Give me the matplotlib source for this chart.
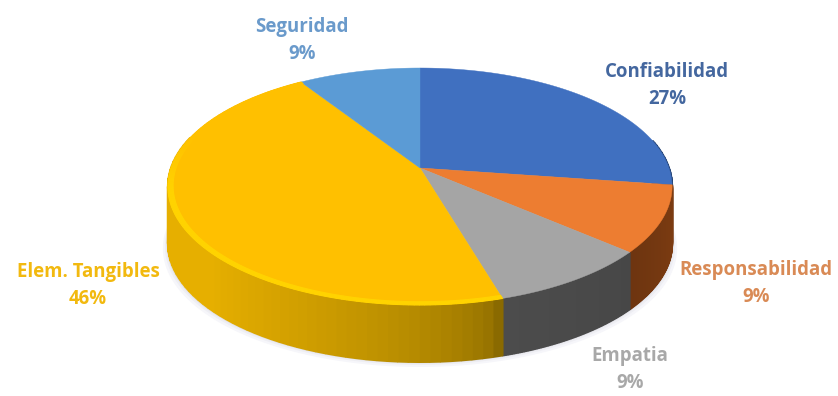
import numpy as np
import matplotlib
matplotlib.use("Agg")
import matplotlib.pyplot as plt
from matplotlib.colors import to_rgb

# data
categories = ["Confiabilidad", "Responsabilidad", "Empatia", "Elem. Tangibles", "Seguridad"]
percent = [27.3, 9.1, 9.1, 45.5, 9.1]
colors = ["#4070C0", "#ED7D31", "#A5A5A5", "#FFC000", "#5B9BD5"]
text_colors = ["#44679F", "#D98A55", "#A8A8A8", "#F2B90F", "#6A9ACB"]
# side wall colour at the start and the end of each slice (clockwise)
side_start = ["#2A4A80", "#7F3D12", "#474747", "#8A6A00", "#3D678E"]
side_end = ["#264475", "#6E3510", "#4C4C4C", "#E6AF00", "#3D678E"]
label_pos = [(667, 72), (756, 270), (630, 356), (88, 272), (302, 27)]

# projection of the tilted disc, in pixels
cx, cy, R, A, k = 420, 168, 249, 115.6, 0.156
depth = 57


def project(t, r=1.0):
    u, v = r * np.sin(t), r * np.cos(t)
    return cx + R * u / (1 + k * v), cy - A * v / (1 + k * v)


def mix(c1, c2, f):
    return tuple((1 - f) * a + f * b for a, b in zip(to_rgb(c1), to_rgb(c2)))


fig = plt.figure(figsize=(8.38, 3.96), dpi=100)
ax = fig.add_axes([0, 0, 1, 1])
ax.set_xlim(0, 838)
ax.set_ylim(396, 0)
ax.axis("off")

edges = 2 * np.pi * np.cumsum([0] + percent) / sum(percent)

# soft shadow under the pie
t_all = np.linspace(0, 2 * np.pi, 200)
sx, sy = project(t_all)
for grow, col in [(5, "#F6F6FA"), (3, "#EEEEF3"), (1.5, "#E2E2E8")]:
    ax.fill(cx + (sx - cx) * (1 + grow / R), sy + depth + grow, color=col, lw=0, zorder=1)

# side walls, as thin quads so the shade can change along the rim
for i in range(len(percent)):
    ts = np.linspace(edges[i], edges[i + 1], 80)
    for j in range(len(ts) - 1):
        if np.cos(ts[j]) > 0.25:
            continue
        f = j / (len(ts) - 2)
        if i == 3:
            f = min(f / 0.4, 1) ** 0.55  # big slice brightens quickly from the right
        x0, y0 = project(ts[j])
        x1, y1 = project(ts[j + 1])
        c = mix(side_start[i], side_end[i], f)
        ax.fill([x0, x1, x1, x0], [y0, y1, y1 + depth, y0 + depth],
                facecolor=c, edgecolor=c, lw=1.5, zorder=2, joinstyle="bevel")

# top face
for i in range(len(percent)):
    ts = np.linspace(edges[i], edges[i + 1], 120)
    x, y = project(ts)
    ax.fill(np.r_[cx, x], np.r_[cy, y], color=colors[i], lw=0.3, zorder=3)

# lighter bevel along the front rim of the big slice, fading towards the back
ts = np.linspace(edges[3], edges[4], 160)
for j in range(len(ts) - 1):
    f = np.clip(-np.cos(ts[j]) + 0.3, 0, 0.5)
    c = mix(colors[3], "#FFE600", f)
    xa, ya = project(ts[j:j + 2], 1.0)
    xb, yb = project(ts[j:j + 2], 0.98)
    ax.fill(np.r_[xa, xb[::-1]], np.r_[ya, yb[::-1]], facecolor=c, edgecolor=c, lw=0.8, zorder=4)

# data labels
for name, p, c, (lx, ly) in zip(categories, percent, text_colors, label_pos):
    ax.text(lx, ly, name, color=c, fontsize=13.4, family="Open Sans", weight="bold",
            ha="center", va="center", zorder=5)
    ax.text(lx, ly + 27, f"{round(p)}%", color=c, fontsize=13.4, family="Open Sans", weight="bold",
            ha="center", va="center", zorder=5)

fig.savefig("out.png", dpi=100)
